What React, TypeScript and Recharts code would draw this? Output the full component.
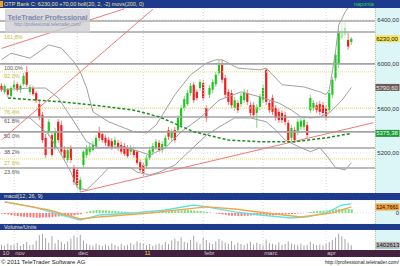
import React from "react";
import { Bar, CartesianGrid, Cell, ComposedChart, Line, ReferenceLine, XAxis, YAxis } from "recharts";

const FONT = "'Liberation Sans', Arial, sans-serif";
const NAVY = "#1d3a8c";
const SLOTS = 119; // 112 trading days + empty space on the right

// OTP Bank daily prices (HUF), late Oct 2010 - mid Apr 2011
const openP = [
  5805, 5750, 5770, 5715, 5785, 5820, 5770, 5820, 5930, 5750,
  5785, 5740, 5640, 5540, 5335, 5380, 5360, 5245, 5480, 5450,
  5225, 5135, 5245, 5065, 5045, 4865, 5090, 5180, 5210, 5225,
  5260, 5390, 5370, 5335, 5315, 5305, 5270, 5290, 5270, 5260,
  5245, 5210, 5225, 5210, 5115, 5090, 5080, 5155, 5210, 5245,
  5290, 5225, 5260, 5405, 5335, 5405, 5405, 5450, 5605, 5640,
  5740, 5815, 5750, 5785, 5830, 5605, 5725, 5770, 5820, 5920,
  5995, 5875, 5750, 5740, 5605, 5650, 5640, 5675, 5740, 5630,
  5630, 5560, 5615, 5675, 5950, 5650, 5695, 5605, 5570, 5560,
  5540, 5470, 5335, 5405, 5390, 5435, 5435, 5450, 5585, 5605,
  5630, 5640, 5630, 5605, 5585, 5725, 5875, 6010, 6235, 6265,
  6220, 6200,
];
const closeP = [
  5770, 5805, 5725, 5785, 5820, 5770, 5805, 5895, 5815, 5795,
  5730, 5675, 5525, 5315, 5180, 5480, 5180, 5390, 5315, 5210,
  5155, 5225, 5135, 4935, 4910, 4955, 5210, 5245, 5255, 5270,
  5335, 5335, 5315, 5290, 5260, 5255, 5315, 5245, 5210, 5190,
  5170, 5245, 5180, 5110, 5045, 5020, 5155, 5225, 5260, 5300,
  5225, 5280, 5335, 5345, 5390, 5315, 5515, 5605, 5685, 5740,
  5805, 5675, 5695, 5840, 5695, 5515, 5785, 5840, 5905, 5995,
  5860, 5725, 5660, 5630, 5675, 5585, 5715, 5750, 5660, 5560,
  5540, 5615, 5705, 5785, 5660, 5585, 5570, 5515, 5495, 5495,
  5480, 5315, 5425, 5315, 5480, 5490, 5495, 5360, 5695, 5650,
  5585, 5570, 5560, 5525, 5740, 5860, 6085, 6285, 6285, 6330,
  6160, 6230,
];
const highP = [
  5830, 5820, 5785, 5805, 5860, 5840, 5820, 5920, 5985, 5815,
  5805, 5760, 5675, 5570, 5370, 5505, 5395, 5425, 5505, 5490,
  5260, 5255, 5270, 5090, 5070, 4980, 5225, 5270, 5290, 5305,
  5360, 5435, 5395, 5360, 5345, 5335, 5345, 5315, 5300, 5290,
  5270, 5270, 5255, 5225, 5145, 5115, 5180, 5255, 5290, 5325,
  5315, 5305, 5360, 5435, 5415, 5435, 5540, 5630, 5715, 5770,
  5830, 5840, 5775, 5865, 5860, 5630, 5815, 5865, 5930, 6040,
  6040, 5905, 5775, 5770, 5705, 5675, 5740, 5775, 5770, 5660,
  5660, 5640, 5730, 5815, 5965, 5675, 5725, 5630, 5595, 5585,
  5570, 5495, 5450, 5435, 5505, 5515, 5525, 5480, 5725, 5675,
  5660, 5670, 5660, 5630, 5770, 5885, 6110, 6310, 6375, 6380,
  6285, 6245,
];
const lowP = [
  5750, 5730, 5705, 5695, 5770, 5750, 5740, 5805, 5795, 5725,
  5715, 5650, 5495, 5290, 5155, 5350, 5165, 5225, 5290, 5180,
  5125, 5110, 5110, 4910, 4885, 4845, 5065, 5155, 5180, 5210,
  5235, 5305, 5290, 5260, 5245, 5225, 5245, 5215, 5190, 5170,
  5155, 5180, 5155, 5090, 5025, 4990, 5055, 5135, 5180, 5225,
  5210, 5200, 5245, 5315, 5305, 5290, 5380, 5425, 5580, 5625,
  5715, 5650, 5670, 5760, 5670, 5480, 5695, 5740, 5795, 5895,
  5830, 5695, 5630, 5605, 5580, 5560, 5615, 5650, 5630, 5535,
  5515, 5425, 5585, 5650, 5630, 5560, 5540, 5490, 5470, 5470,
  5450, 5290, 5305, 5290, 5360, 5405, 5405, 5335, 5560, 5580,
  5560, 5540, 5535, 5495, 5560, 5695, 5850, 5965, 6220, 6235,
  6130, 6175,
];
const paleDays = [108, 109];

const volume = [
  1600000, 1400000, 1900000, 1500000, 1700000, 2100000, 1300000, 1800000, 2400000, 1500000,
  1700000, 2800000, 4500000, 4900000, 3600000, 2200000, 4200000, 2000000, 3100000, 2500000,
  1800000, 2600000, 3400000, 4400000, 3800000, 4600000, 2900000, 2000000, 1600000, 1400000,
  1900000, 1500000, 1200000, 1700000, 1300000, 2000000, 1500000, 1100000, 1800000, 1400000,
  1600000, 2100000, 1700000, 2600000, 2200000, 1900000, 1500000, 1800000, 1300000, 1700000,
  2000000, 1600000, 2400000, 1800000, 2900000, 3400000, 2700000, 3900000, 2500000, 2200000,
  3100000, 4300000, 2400000, 1900000, 3600000, 3000000, 2100000, 1800000, 2600000, 3300000,
  2800000, 2300000, 1900000, 2700000, 1600000, 2200000, 1800000, 1500000, 2000000, 2400000,
  1700000, 2200000, 1800000, 1600000, 3200000, 2100000, 1900000, 1600000, 2300000, 1500000,
  1800000, 2600000, 2000000, 1700000, 1500000, 1900000, 1400000, 1600000, 2500000, 1800000,
  1500000, 1700000, 1400000, 2000000, 2400000, 3000000, 3800000, 4900000, 4200000, 3300000,
  2200000, 1402613,
];

const macdHist = [
  -10, -20, -30, -45, -55, -65, -75, -80, -85, -90,
  -95, -100, -100, -95, -95, -90, -85, -80, -75, -70,
  -65, -60, -55, -45, -35, -25, 0, 20, 40, 50,
  60, 60, 55, 55, 50, 45, 40, 35, 30, 25,
  20, 15, 10, 5, 5, 0, 5, 10, 15, 20,
  20, 25, 30, 35, 40, 45, 50, 55, 60, 60,
  55, 50, 45, 40, 30, 20, 10, 0, -10, -20,
  -30, -40, -50, -55, -60, -65, -65, -60, -55, -50,
  -45, -45, -40, -40, -45, -50, -45, -40, -35, -30,
  -25, -25, -20, -15, -10, -5, 0, 10, 20, 30,
  40, 45, 50, 55, 60, 70, 80, 85, 90, 90,
  85, 80,
];

// indicator readings: [day index, value]
const bollUpperPts: [number, number][] = [
  [0, 6040], [3, 6100], [9, 6055], [15, 6175], [19, 6145], [23, 6020], [25, 5930], [27, 5785],
  [29, 5570], [34, 5480], [42, 5390], [46, 5380], [49, 5450], [52, 5585], [55, 5725], [60, 5905],
  [65, 6010], [68, 6040], [70, 6040], [75, 5965], [82, 5950], [84, 5965], [86, 5905], [89, 5815],
  [96, 5795], [101, 5750], [103, 5725], [104, 5770], [106, 6120], [107, 6355], [109, 6470], [111, 6555],
];
const bollMidPts: [number, number][] = [
  [0, 5770], [9, 5785], [14, 5785], [18, 5695], [23, 5480], [27, 5300], [31, 5245], [38, 5255],
  [44, 5210], [47, 5180], [52, 5245], [57, 5390], [63, 5515], [69, 5675], [76, 5750], [82, 5705],
  [88, 5650], [92, 5585], [95, 5525], [98, 5515], [101, 5525], [104, 5560], [108, 5675], [111, 5790.6],
];
const bollLowerPts: [number, number][] = [
  [0, 5515], [9, 5515], [15, 5360], [19, 5180], [22, 5025], [24, 4885], [27, 4865], [31, 4975],
  [34, 5065], [41, 5065], [43, 5025], [47, 5000], [50, 5025], [55, 5090], [60, 5225], [65, 5360],
  [70, 5450], [74, 5515], [79, 5515], [84, 5480], [87, 5405], [90, 5315], [95, 5245], [98, 5210],
  [101, 5245], [103, 5180], [106, 5065], [109, 5045], [111, 5110],
];
const ma200Pts: [number, number][] = [
  [2, 5695], [19, 5660], [31, 5625], [42, 5585], [50, 5525], [61, 5390], [72, 5315], [82, 5300],
  [93, 5300], [103, 5335], [111, 5375.38],
];
const macdPts: [number, number][] = [
  [1, 229], [10, 125], [19, -42], [25, -146], [31, -42], [42, 0], [52, 62], [61, 166],
  [65, 125], [74, 21], [82, -42], [92, -104], [97, -83], [103, 0], [108, 166], [111, 190.3],
];
const signalPts: [number, number][] = [
  [1, 229], [15, 62], [25, -125], [31, -83], [47, 0], [65, 125], [74, 83], [84, 0],
  [95, -83], [105, 0], [111, 124.7661],
];

// fibonacci retracement levels
const fibMajor = [6390, 6291, 6003, 5524, 5389, 5244, 5063];
const fibMajorNames = ["", "161.8%", "100.0%", "61.8%", "50.0%", "38.2%", "23.6%"];
const fibMinor = [5931, 5605, 5145];
const fibMinorNames = ["92.0%", "76.4%", "27.6%"];

// trend lines: [day, price] start and end
const trendStart: [number, number][] = [[0, 5316], [0, 6143], [25, 4846]];
const trendEnd: [number, number][] = [[48, 6497], [39, 6501], [118, 5472]];

const priceTicks = [5000, 5200, 5400, 5600, 5800, 6000, 6200, 6400];
const monthIdx = [0, 4, 24, 45, 64, 83, 103];
const monthLabels = ["10", "nov", "dec", "11", "febr", "marc", "apr"];

const pick = (pts: [number, number][], i: number) => {
  const p = pts.find((q) => q[0] === i);
  return p ? p[1] : null;
};

const rows = Array.from({ length: SLOTS }, (_, i) => {
  const has = i < closeP.length;
  return {
    i,
    range: has ? [lowP[i], highP[i]] : null,
    open: has ? openP[i] : null,
    close: has ? closeP[i] : null,
    pale: paleDays.includes(i),
    vol: has ? volume[i] : null,
    hist: has ? macdHist[i] : null,
    bbU: pick(bollUpperPts, i),
    bbM: pick(bollMidPts, i),
    bbL: pick(bollLowerPts, i),
    ma200: pick(ma200Pts, i),
    macd: pick(macdPts, i),
    signal: pick(signalPts, i),
  };
});

const lastClose = closeP[closeP.length - 1];
const prevClose = closeP[closeP.length - 2];
const lastMid = bollMidPts[bollMidPts.length - 1][1];
const lastMa = ma200Pts[ma200Pts.length - 1][1];
const lastSignal = signalPts[signalPts.length - 1][1];
const lastVol = volume[volume.length - 1];

const fmt2 = (v: number) => v.toFixed(2).replace(".", ",");
const fmt4 = (v: number) => v.toFixed(4).replace(".", ",");

const Candle = (props: any) => {
  const { x, y, width, height, payload } = props;
  if (!payload || !payload.range) return null;
  const [low, high] = payload.range;
  const top = height >= 0 ? y : y + height;
  const h = Math.abs(height);
  const span = high - low || 1;
  const py = (v: number) => top + ((high - v) / span) * h;
  const up = payload.close >= payload.open;
  const cx = x + width / 2;
  const bTop = py(Math.max(payload.open, payload.close));
  const bBot = py(Math.min(payload.open, payload.close));
  let body = up ? "#1ec81e" : "#f01e1e";
  let wick = up ? "#7cd87c" : "#f47c7c";
  if (payload.pale) {
    body = "#a6eea6";
    wick = "#c4f2c4";
  }
  return (
    <g>
      <line x1={cx} x2={cx} y1={top} y2={top + h} stroke={wick} strokeWidth={1} />
      <rect x={cx - 1.1} y={bTop} width={2.2} height={Math.max(1, bBot - bTop)} fill={body} />
    </g>
  );
};

const RightTick = ({ y, payload, fmt }: any) => (
  <text x={399} y={y + 2} textAnchor="end" fontSize={6} fill="#333" fontFamily={FONT}>
    {fmt(payload.value)}
  </text>
);

const MonthTick = ({ x, payload }: any) => {
  const k = monthIdx.indexOf(payload.value);
  return (
    <text x={x + 1} y={25} fontSize={6} fill={monthLabels[k] === "11" ? "#e8d848" : "#c8c8d0"} fontFamily={FONT}>
      {monthLabels[k]}
    </text>
  );
};

const FibLabel = ({ viewBox, text, color }: any) =>
  viewBox && text ? (
    <text x={viewBox.x + 4} y={viewBox.y + 6.5} fontSize={5.5} fill={color} fontFamily={FONT}>
      {text}
    </text>
  ) : null;

const SideTag = ({ viewBox, text, bg, fg, size = 6 }: any) => {
  if (!viewBox) return null;
  const x = viewBox.x + viewBox.width;
  return (
    <g>
      <rect x={x + 0.5} y={viewBox.y - 3.5} width={24} height={7} fill={bg} />
      <text x={x + 1.2} y={viewBox.y + 2.1} fontSize={size} fill={fg} fontFamily={FONT}>
        {text}
      </text>
    </g>
  );
};

const zero = { top: 0, right: 0, bottom: 0, left: 0 };
const axisBg: React.CSSProperties = {
  position: "absolute",
  left: 375,
  width: 25,
  background: "#dcf5f6",
  borderLeft: "1px dotted #cfc58a",
  boxSizing: "border-box",
};
const header: React.CSSProperties = {
  position: "absolute",
  left: 0,
  width: 400,
  background: NAVY,
  color: "#e4e4c4",
  fontSize: 5.5,
  whiteSpace: "nowrap",
  paddingLeft: 4,
  boxSizing: "border-box",
};

const monthLines = (stroke: string) =>
  monthIdx.slice(1).map((m) => (
    <ReferenceLine key={`m${m}`} x={m} stroke={stroke} strokeDasharray="1 2" />
  ));

const App: React.FC = () => {
  return (
    <div
      style={{
        position: "fixed",
        left: 0,
        top: 0,
        width: 400,
        height: 266,
        background: "#fff",
        fontFamily: FONT,
        overflow: "hidden",
      }}
    >
      <div style={{ ...axisBg, top: 8, height: 185 }} />
      <div style={{ ...axisBg, top: 200, height: 24 }} />
      <div style={{ ...axisBg, top: 230, height: 20 }} />
      <div style={{ position: "absolute", left: 0, top: 250, width: 400, height: 7, background: "#42203e" }} />

      {/* price panel */}
      <div style={{ position: "absolute", left: 0, top: 8 }}>
        <ComposedChart width={400} height={185} data={rows} margin={zero}>
          <CartesianGrid vertical={false} stroke="#dedede" strokeDasharray="1 2" />
          <XAxis dataKey="i" hide />
          <YAxis
            orientation="right"
            width={25}
            domain={[4837, 6508]}
            allowDataOverflow
            ticks={priceTicks}
            axisLine={false}
            tickLine={false}
            tick={<RightTick fmt={fmt2} />}
          />
          {monthLines("#d6d6d6")}
          {fibMinor.map((v, k) => (
            <ReferenceLine
              key={`fm${k}`}
              y={v}
              stroke="#e6dc6a"
              strokeDasharray="1 1"
              label={<FibLabel text={fibMinorNames[k]} color="#c9b92a" />}
            />
          ))}
          {fibMajor.map((v, k) => (
            <ReferenceLine
              key={`fb${k}`}
              y={v}
              stroke="#a4a4a4"
              strokeWidth={1.6}
              label={<FibLabel text={fibMajorNames[k]} color={k === 1 ? "#c9b92a" : "#555"} />}
            />
          ))}
          {trendStart.map((s, k) => (
            <ReferenceLine
              key={`tl${k}`}
              segment={[
                { x: s[0], y: s[1] },
                { x: trendEnd[k][0], y: trendEnd[k][1] },
              ]}
              stroke="#f07a7a"
              strokeWidth={1}
              ifOverflow="visible"
            />
          ))}
          <Line dataKey="bbU" stroke="#a0a0a0" strokeWidth={1} dot={false} connectNulls isAnimationActive={false} />
          <Line dataKey="bbM" stroke="#a0a0a0" strokeWidth={1} dot={false} connectNulls isAnimationActive={false} />
          <Line dataKey="bbL" stroke="#a0a0a0" strokeWidth={1} dot={false} connectNulls isAnimationActive={false} />
          <Line
            dataKey="ma200"
            stroke="#1e8c1e"
            strokeWidth={1.5}
            strokeDasharray="3 2"
            dot={false}
            connectNulls
            isAnimationActive={false}
          />
          <Bar dataKey="range" barSize={3} shape={Candle} isAnimationActive={false} />
          <ReferenceLine y={lastMid} stroke="none" label={<SideTag text={fmt2(lastMid)} bg="#6c5c54" fg="#eee" />} />
          <ReferenceLine y={lastMa} stroke="none" label={<SideTag text={fmt2(lastMa)} bg="#1f9a3a" fg="#efe" />} />
          <ReferenceLine y={lastClose} stroke="none" label={<SideTag text={fmt2(lastClose)} bg="#f4e45c" fg="#111" />} />
        </ComposedChart>
      </div>

      {/* watermark */}
      <div
        style={{
          position: "absolute",
          left: 5,
          top: 9,
          width: 85,
          height: 24,
          background: "rgba(208,208,212,0.8)",
          textAlign: "center",
          color: "#7e8cae",
        }}
      >
        <div style={{ fontSize: 7.5, fontWeight: 600, letterSpacing: -0.2, marginTop: 4, lineHeight: "9px" }}>
          TeleTrader Professional
        </div>
        <div style={{ fontSize: 4.5, lineHeight: "6px" }}>http://professional.teletrader.com/</div>
      </div>

      {/* title bar */}
      <div style={{ ...header, top: 0, height: 8, lineHeight: "8px", color: "#e6e68a" }}>
        <div style={{ position: "absolute", left: 0, top: 1, width: 3, height: 6, background: "#f0a020" }} />
        {`OTP Bank C: ${fmt2(lastClose)} +${fmt2(lastClose - prevClose)} boll(20, 2, -2) movs(200, 0)`}
        <span style={{ position: "absolute", left: 354, top: 0, color: "#3ad83a" }}>naponta</span>
      </div>

      {/* MACD panel */}
      <div style={{ ...header, top: 193, height: 7, lineHeight: "7px" }}>macd(12, 26, 9)</div>
      <div style={{ position: "absolute", left: 0, top: 200 }}>
        <ComposedChart width={400} height={24} data={rows} margin={zero}>
          <CartesianGrid vertical={false} stroke="#dcdcdc" strokeDasharray="1 2" />
          <XAxis dataKey="i" hide />
          <YAxis
            orientation="right"
            width={25}
            domain={[-229, 270]}
            allowDataOverflow
            ticks={[0]}
            axisLine={false}
            tickLine={false}
            tick={<RightTick fmt={(v: number) => String(v)} />}
          />
          {monthLines("#dadada")}
          <Bar dataKey="hist" barSize={2} isAnimationActive={false}>
            {rows.map((r, k) => (
              <Cell key={k} fill={(r.hist ?? 0) >= 0 ? "#80e080" : "#f47c7c"} />
            ))}
          </Bar>
          <Line dataKey="macd" stroke="#5ee4e8" strokeWidth={1.3} dot={false} connectNulls isAnimationActive={false} />
          <Line dataKey="signal" stroke="#f2a64a" strokeWidth={1.3} dot={false} connectNulls isAnimationActive={false} />
          <ReferenceLine
            y={lastSignal}
            stroke="none"
            label={<SideTag text={fmt4(lastSignal)} bg="#f2a040" fg="#111" size={5.3} />}
          />
        </ComposedChart>
      </div>

      {/* volume panel */}
      <div style={{ ...header, top: 224, height: 6, lineHeight: "6px" }}>Volume/Units</div>
      <div style={{ position: "absolute", left: 0, top: 230 }}>
        <ComposedChart width={400} height={27} data={rows} margin={zero}>
          <XAxis
            dataKey="i"
            height={7}
            ticks={monthIdx}
            interval={0}
            axisLine={false}
            tickLine={false}
            tick={<MonthTick />}
          />
          <YAxis
            orientation="right"
            width={25}
            domain={[0, 6060000]}
            allowDataOverflow
            ticks={[5000000]}
            axisLine={false}
            tickLine={false}
            tick={<RightTick fmt={(v: number) => String(v)} />}
          />
          {monthLines("#d8d8d8")}
          <Bar dataKey="vol" barSize={1} fill="#a4a4a4" isAnimationActive={false} />
          <ReferenceLine y={lastVol} stroke="none" label={<SideTag text={String(lastVol)} bg="#b6b6b6" fg="#111" />} />
        </ComposedChart>
      </div>

      {/* footer */}
      <div style={{ position: "absolute", left: 1, top: 258, fontSize: 6, lineHeight: "8px", color: "#222", whiteSpace: "nowrap" }}>
        © 2011 TeleTrader Software AG
      </div>
      <div style={{ position: "absolute", right: 1, top: 258, fontSize: 5, lineHeight: "8px", color: "#222", whiteSpace: "nowrap" }}>
        http://professional.teletrader.com/
      </div>
    </div>
  );
};

export default App;
